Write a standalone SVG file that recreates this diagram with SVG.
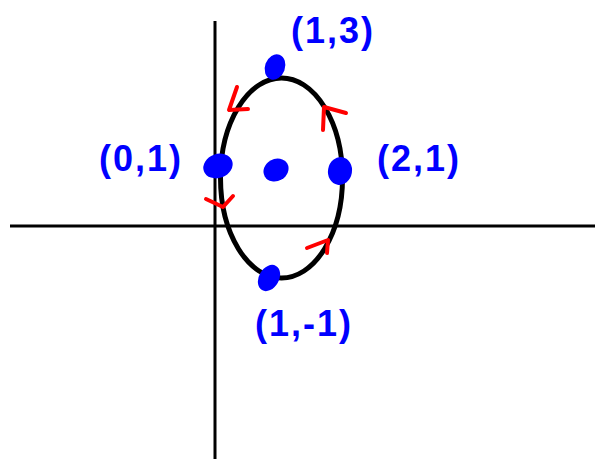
<svg xmlns="http://www.w3.org/2000/svg" width="595" height="459" viewBox="0 0 595 459">
<style>
.ax{stroke:#000;stroke-width:3;fill:none}
.ell{stroke:#000;stroke-width:5;fill:none}
.dot{fill:#0000ff}
.arr{stroke:#ff0000;stroke-width:4;fill:none;stroke-linecap:round;stroke-linejoin:round}
.lbl{fill:#0000ff;font-family:"Liberation Sans",Arial,sans-serif;font-size:36px;font-weight:bold;letter-spacing:2px}
</style>
<rect width="595" height="459" fill="#fff"/>
<g id="axes">
<line class="ax" x1="215" y1="21" x2="215" y2="459"/>
<line class="ax" x1="10" y1="226" x2="595" y2="226"/>
</g>
<g id="ellipse">
<ellipse class="ell" cx="281.5" cy="178" rx="61" ry="100"/>
</g>
<g id="arrows">
<polyline class="arr" points="237,87 229,110 248,109"/>
<polyline class="arr" points="323,130 324,107 346,113"/>
<polyline class="arr" points="206,199 223,207 233,196"/>
<polyline class="arr" points="307,248 328,240 327,253"/>
</g>
<g id="p13"><ellipse class="dot" cx="275" cy="67" rx="10" ry="13" transform="rotate(20 275 67)"/></g>
<g id="p01"><ellipse class="dot" cx="218" cy="166" rx="15" ry="12" transform="rotate(-20 218 166)"/></g>
<g id="p11"><ellipse class="dot" cx="276" cy="170" rx="13" ry="11" transform="rotate(-30 276 170)"/></g>
<g id="p21"><ellipse class="dot" cx="340" cy="171" rx="12" ry="14" transform="rotate(10 340 171)"/></g>
<g id="p1m1"><ellipse class="dot" cx="269" cy="278" rx="10" ry="14" transform="rotate(30 269 278)"/></g>
<g id="labels">
<text class="lbl" x="291" y="43">(1,3)</text>
<text class="lbl" x="99" y="171">(0,1)</text>
<text class="lbl" x="377" y="171">(2,1)</text>
<text class="lbl" x="255" y="336">(1,-1)</text>
</g>
</svg>
